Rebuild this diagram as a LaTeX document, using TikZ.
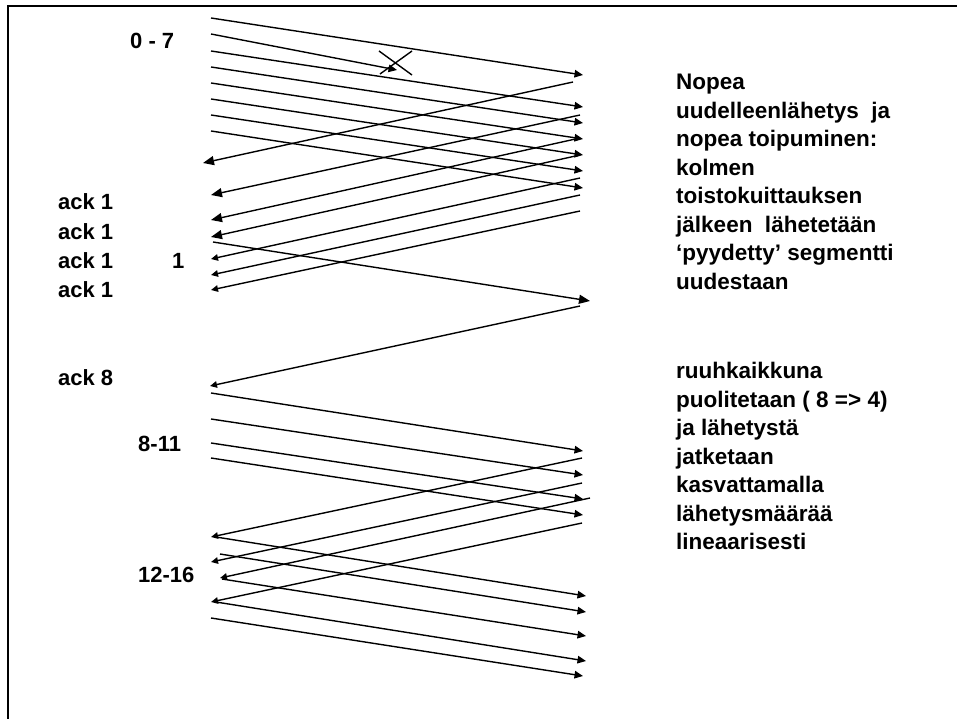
\documentclass[tikz,border=0pt]{standalone}
\usepackage{fontspec}
\setmainfont{Liberation Sans}
\usetikzlibrary{arrows.meta}
\begin{document}
\begin{tikzpicture}[x=1pt,y=-1pt,
  msg/.style={line width=1.4pt,-{Triangle[length=8.5pt,width=7.5pt]}},
  bigmsg/.style={line width=1.4pt,-{Triangle[length=11pt,width=9pt]}},
  smallmsg/.style={line width=1.4pt,-{Triangle[length=7pt,width=6.5pt]}},
  lbl/.style={font=\fontsize{22}{25}\selectfont\bfseries, inner sep=0pt, anchor=base west},
  para/.style={font=\fontsize{22.5}{28.5}\selectfont\bfseries, inner sep=0pt, anchor=north west, align=left}]
\useasboundingbox (0,0) rectangle (957,719);
% frame (cut at right and bottom)
\draw[line width=2pt] (957,6) -- (8,6) -- (8,719);

% segments 0-7
\foreach \n/\a/\b/\c/\d in {1/211/18/583/75, 3/211/51/583/107, 4/211/67/583/123,
    5/211/83/583/139, 6/211/99/583/155, 7/211/115/583/171, 8/211/131/583/188}{
  \coordinate (f\n s) at (\a,\b); \coordinate (f\n e) at (\c,\d);
  \draw[msg] (f\n s) -- (f\n e);
}
% lost segment
\coordinate (f2s) at (211,34); \coordinate (f2e) at (397,70);
\draw[msg] (f2s) -- (f2e);
\coordinate (x1) at (379,51); \coordinate (x2) at (412,75);
\coordinate (x3) at (412,51); \coordinate (x4) at (380,74);
\draw[line width=1.4pt] (x1) -- (x2) (x3) -- (x4);

% duplicate acks
\foreach \n/\a/\b/\c/\d in {1/573/82/203/163, 2/580/115/211/195, 3/580/138/211/220, 4/580/155/211/237}{
  \coordinate (a\n s) at (\a,\b); \coordinate (a\n e) at (\c,\d);
  \draw[bigmsg] (a\n s) -- (a\n e);
}
\foreach \n/\a/\b/\c/\d in {5/580/178/211/259, 6/580/195/211/275, 7/580/211/211/290}{
  \coordinate (a\n s) at (\a,\b); \coordinate (a\n e) at (\c,\d);
  \draw[smallmsg] (a\n s) -- (a\n e);
}
% retransmission and ack 8
\coordinate (rs) at (213,242); \coordinate (re) at (590,301);
\draw[bigmsg] (rs) -- (re);
\coordinate (bs) at (580,306); \coordinate (be) at (210,386);
\draw[smallmsg] (bs) -- (be);

% segments 8-11
\foreach \n/\a/\b/\c/\d in {1/211/393/583/451, 2/211/419/583/475, 3/211/443/583/499, 4/211/458/583/515}{
  \coordinate (g\n s) at (\a,\b); \coordinate (g\n e) at (\c,\d);
  \draw[msg] (g\n s) -- (g\n e);
}
% acks
\foreach \n/\a/\b/\c/\d in {1/582/458/211/537, 2/582/483/211/562, 3/590/498/220/578, 4/582/523/211/602}{
  \coordinate (h\n s) at (\a,\b); \coordinate (h\n e) at (\c,\d);
  \draw[smallmsg] (h\n s) -- (h\n e);
}
% segments 12-16
\foreach \n/\a/\b/\c/\d in {1/216/537/586/596, 2/220/554/586/612, 3/222/579/586/636, 4/216/602/586/661, 5/211/618/583/676}{
  \coordinate (k\n s) at (\a,\b); \coordinate (k\n e) at (\c,\d);
  \draw[msg] (k\n s) -- (k\n e);
}

% labels
\node[lbl] (l07) at (130,49) {0 - 7};
\node[lbl] (lack1) at (58,210) {ack 1};
\node[lbl] (lack2) at (58,239) {ack 1};
\node[lbl] (lack3) at (58,268) {ack 1};
\node[lbl] (lack4) at (58,297) {ack 1};
\node[lbl] (lone) at (172,268) {1};
\node[lbl] (lack8) at (58,385) {ack 8};
\node[lbl] (l811) at (138,451) {8-11};
\node[lbl] (l1216) at (138,582) {12-16};

\node[para] (t1) at (676,74) {Nopea\\uudelleenlähetys\ \ ja\\nopea toipuminen:\\kolmen\\toistokuittauksen\\jälkeen\ \ lähetetään\\‘pyydetty’ segmentti\\uudestaan};
\node[para] (t2) at (676,362) {ruuhkaikkuna\\puolitetaan ( 8 => 4)\\ja lähetystä\\jatketaan\\kasvattamalla\\lähetysmäärää\\lineaarisesti};
\end{tikzpicture}
\end{document}
